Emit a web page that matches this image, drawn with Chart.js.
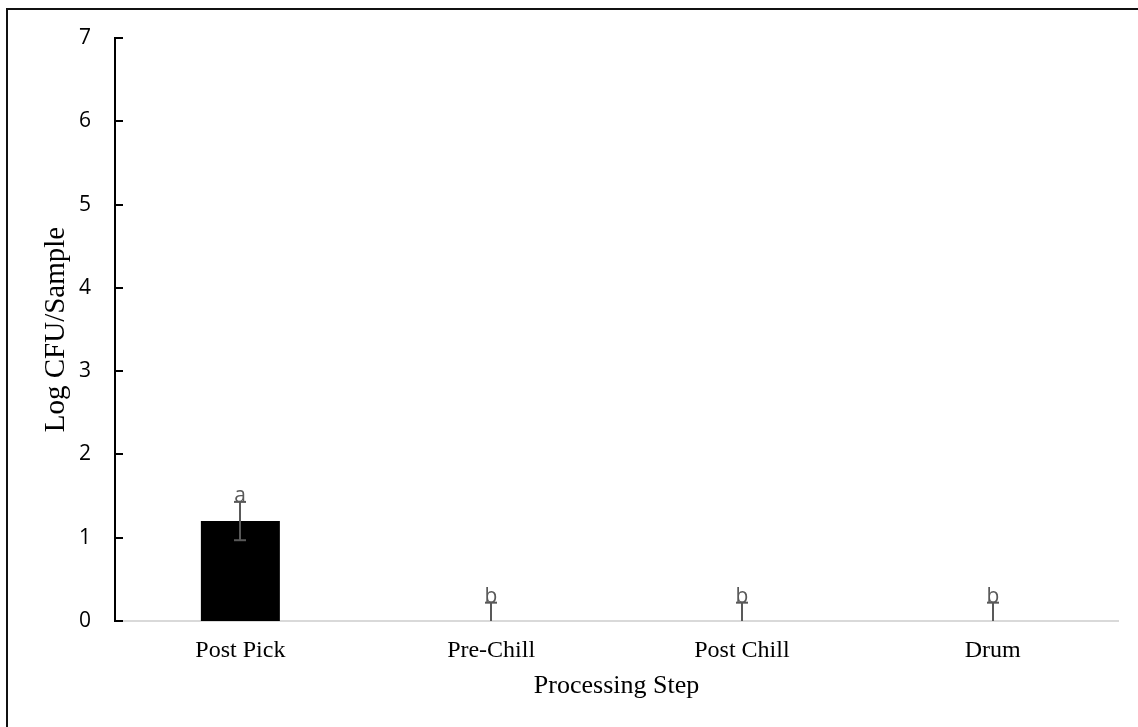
<!DOCTYPE html>
<html><head><meta charset="utf-8">
<script src="https://cdn.jsdelivr.net/npm/chart.js@4.4.1/dist/chart.umd.min.js"></script>
<style>
html,body{margin:0;padding:0;background:#fff;overflow:hidden;}
#wrap{position:relative;width:1138px;height:727px;overflow:hidden;}
#frame{position:absolute;left:6px;top:8px;width:1300px;height:900px;border:2px solid #111;box-sizing:border-box;}
canvas{position:absolute;left:0;top:0;}
</style></head><body>
<div id="wrap"><div id="frame"></div><canvas id="c" width="1138" height="727"></canvas></div>
<script>
const categories = ['Post Pick', 'Pre-Chill', 'Post Chill', 'Drum'];
const means = [1.2, 0, 0, 0];
const errors = [0.23, 0.22, 0.22, 0.22];
const letters = ['a', 'b', 'b', 'b'];
const yTicks = [0, 1, 2, 3, 4, 5, 6, 7];
const yTitle = 'Log CFU/Sample';
const xTitle = 'Processing Step';

const overlay = {
  id: 'overlay',
  afterDatasetsDraw(chart) {
    const ctx = chart.ctx, y = chart.scales.y, area = chart.chartArea;
    ctx.save();
    ctx.strokeStyle = '#000'; ctx.lineWidth = 2;
    yTicks.forEach(v => {
      const py = Math.round(y.getPixelForValue(v));
      ctx.beginPath(); ctx.moveTo(area.left, py); ctx.lineTo(area.left + 8, py); ctx.stroke();
    });
    const meta = chart.getDatasetMeta(0);
    meta.data.forEach((bar, i) => {
      const cx = Math.round(bar.x);
      const hi = y.getPixelForValue(means[i] + errors[i]);
      const loV = means[i] - errors[i];
      const lo = y.getPixelForValue(Math.max(loV, 0));
      ctx.strokeStyle = '#595959'; ctx.lineWidth = 2;
      ctx.beginPath(); ctx.moveTo(cx, lo); ctx.lineTo(cx, hi); ctx.stroke();
      ctx.beginPath(); ctx.moveTo(cx - 6, hi); ctx.lineTo(cx + 6, hi); ctx.stroke();
      if (loV > 0) { ctx.beginPath(); ctx.moveTo(cx - 6, lo); ctx.lineTo(cx + 6, lo); ctx.stroke(); }
      ctx.fillStyle = '#595959';
      ctx.font = '21px "Open Sans"';
      ctx.textAlign = 'center'; ctx.textBaseline = 'alphabetic';
      ctx.fillText(letters[i], cx, hi + 0.5);
    });
    ctx.restore();
  }
};

new Chart(document.getElementById('c'), {
  type: 'bar',
  data: {
    labels: categories,
    datasets: [{ data: means, backgroundColor: '#000', borderWidth: 0, categoryPercentage: 1, barPercentage: 0.315 }]
  },
  options: {
    responsive: false,
    animation: false,
    events: [],
    layout: { padding: { left: 0, right: 20, top: 38, bottom: 0 } },
    plugins: { legend: { display: false }, tooltip: { enabled: false } },
    scales: {
      x: {
        grid: { display: false, drawTicks: false },
        border: { display: true, color: '#d9d9d9', width: 2 },
        ticks: { color: '#000', padding: 15, font: { family: '"Liberation Serif", "Times New Roman", serif', size: 24 } },
        title: { display: true, text: xTitle, color: '#000', padding: { top: 0, bottom: 25 }, font: { family: '"Liberation Serif", "Times New Roman", serif', size: 26 } },
        afterFit(s) { s.height = 106; }
      },
      y: {
        min: 0, max: 7,
        afterBuildTicks(s) { s.ticks = yTicks.map(v => ({ value: v })); },
        grid: { display: false, drawTicks: false },
        border: { display: true, color: '#000', width: 2 },
        ticks: { color: '#000', padding: 24, font: { family: '"Open Sans", sans-serif', size: 21 } },
        title: { display: true, text: yTitle, color: '#000', padding: { top: 39, bottom: 0 }, font: { family: '"Liberation Serif", "Times New Roman", serif', size: 29 } },
        afterFit(s) { s.width = 115; }
      }
    }
  },
  plugins: [overlay]
});
</script>
</body></html>
